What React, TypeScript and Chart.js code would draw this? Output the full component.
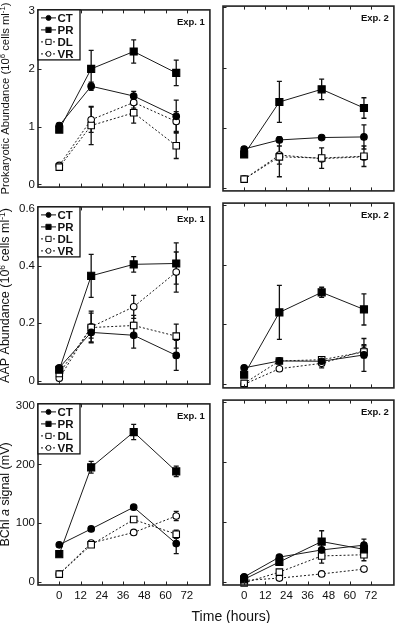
import React, { useEffect, useRef } from "react";
import { Chart, registerables } from "chart.js";

Chart.register(...registerables);

const FONT = "'Liberation Sans', Arial, Helvetica, sans-serif";

// ---------- categories / ticks ----------
const SERIES_NAMES = ["CT", "PR", "DL", "VR"];
const HOURS_EXP1 = [0, 18, 42, 66];
const HOURS_EXP2 = [0, 20, 44, 68];
const X_TICKS = [0, 12, 24, 36, 48, 60, 72];
const PROK_TICKS = [0, 1, 2, 3];
const AAP_TICKS = [0, 0.2, 0.4, 0.6];
const BCHL_TICKS = [0, 100, 200, 300];

// ---------- Prokaryotic abundance (10^6 cells ml-1) ----------
const PROK1_CT = [1.02, 1.7, 1.53, 1.18];
const PROK1_CT_ERR = [0.04, 0.07, 0.08, 0.28];
const PROK1_PR = [0.95, 2.0, 2.3, 1.93];
const PROK1_PR_ERR = [0.03, 0.32, 0.2, 0.22];
const PROK1_DL = [0.3, 1.02, 1.24, 0.67];
const PROK1_DL_ERR = [0.05, 0.33, 0.18, 0.22];
const PROK1_VR = [0.33, 1.12, 1.42, 1.09];
const PROK1_VR_ERR = [0.04, 0.22, 0.1, 0.17];

const PROK2_CT = [0.65, 0.8, 0.84, 0.85];
const PROK2_CT_ERR = [0.03, 0.04, 0.03, 0.2];
const PROK2_PR = [0.56, 1.43, 1.64, 1.33];
const PROK2_PR_ERR = [0.03, 0.34, 0.17, 0.17];
const PROK2_DL = [0.15, 0.52, 0.5, 0.53];
const PROK2_DL_ERR = [0.03, 0.33, 0.17, 0.17];
const PROK2_VR = [0.15, 0.55, 0.49, 0.52];
const PROK2_VR_ERR = [0.02, 0.15, 0.05, 0.05];

// ---------- AAP abundance (10^6 cells ml-1) ----------
const AAP1_CT = [0.045, 0.168, 0.158, 0.088];
const AAP1_CT_ERR = [0.005, 0.02, 0.045, 0.052];
const AAP1_PR = [0.038, 0.365, 0.405, 0.408];
const AAP1_PR_ERR = [0.005, 0.075, 0.027, 0.072];
const AAP1_DL = [0.025, 0.185, 0.192, 0.155];
const AAP1_DL_ERR = [0.005, 0.05, 0.035, 0.042];
const AAP1_VR = [0.008, 0.187, 0.257, 0.378];
const AAP1_VR_ERR = [0.003, 0.055, 0.04, 0.07];

const AAP2_CT = [0.055, 0.078, 0.077, 0.098];
const AAP2_CT_ERR = [0.004, 0.006, 0.006, 0.055];
const AAP2_PR = [0.032, 0.24, 0.307, 0.25];
const AAP2_PR_ERR = [0.004, 0.09, 0.017, 0.052];
const AAP2_DL = [0.003, 0.078, 0.082, 0.108];
const AAP2_DL_ERR = [0.002, 0.006, 0.01, 0.02];
const AAP2_VR = [0.0, 0.052, 0.07, 0.112];
const AAP2_VR_ERR = [0.002, 0.005, 0.015, 0.02];

// ---------- BChl a signal (mV) ----------
const BCHL1_CT = [63, 90, 127, 65];
const BCHL1_CT_ERR = [2, 3, 3, 17];
const BCHL1_PR = [47, 195, 255, 188];
const BCHL1_PR_ERR = [3, 10, 13, 9];
const BCHL1_DL = [13, 63, 106, 81];
const BCHL1_DL_ERR = [2, 3, 4, 7];
const BCHL1_VR = [13, 66, 84, 112];
const BCHL1_VR_ERR = [2, 3, 3, 8];

const BCHL2_CT = [8, 41, 53, 61];
const BCHL2_CT_ERR = [2, 3, 3, 10];
const BCHL2_PR = [4, 33, 67, 54];
const BCHL2_PR_ERR = [2, 3, 18, 8];
const BCHL2_DL = [-2, 16, 43, 45];
const BCHL2_DL_ERR = [1, 2, 12, 10];
const BCHL2_VR = [2, 6, 13, 21];
const BCHL2_VR_ERR = [1, 2, 2, 2];

type Seg = { t: string; sup?: boolean; it?: boolean };
const PROK_TITLE: Seg[] = [
  { t: "Prokaryotic Abundance (10" },
  { t: "6", sup: true },
  { t: " cells ml" },
  { t: "-1", sup: true },
  { t: ")" },
];
const AAP_TITLE: Seg[] = [
  { t: "AAP Abundance (10" },
  { t: "6", sup: true },
  { t: " cells ml" },
  { t: "-1", sup: true },
  { t: ")" },
];
const BCHL_TITLE: Seg[] = [{ t: "BChl " }, { t: "a", it: true }, { t: " signal (mV)" }];

type PanelSpec = {
  row: number;
  col: number;
  exp: string;
  hours: number[];
  values: number[][];
  errors: number[][];
  yTicks: number[];
  yMin: number;
  yMax: number;
  title: Seg[];
};

const PANELS: PanelSpec[] = [
  { row: 0, col: 0, exp: "Exp. 1", hours: HOURS_EXP1, values: [PROK1_CT, PROK1_PR, PROK1_DL, PROK1_VR], errors: [PROK1_CT_ERR, PROK1_PR_ERR, PROK1_DL_ERR, PROK1_VR_ERR], yTicks: PROK_TICKS, yMin: -0.045, yMax: 3.02, title: PROK_TITLE },
  { row: 0, col: 1, exp: "Exp. 2", hours: HOURS_EXP2, values: [PROK2_CT, PROK2_PR, PROK2_DL, PROK2_VR], errors: [PROK2_CT_ERR, PROK2_PR_ERR, PROK2_DL_ERR, PROK2_VR_ERR], yTicks: PROK_TICKS, yMin: -0.045, yMax: 3.02, title: PROK_TITLE },
  { row: 1, col: 0, exp: "Exp. 1", hours: HOURS_EXP1, values: [AAP1_CT, AAP1_PR, AAP1_DL, AAP1_VR], errors: [AAP1_CT_ERR, AAP1_PR_ERR, AAP1_DL_ERR, AAP1_VR_ERR], yTicks: AAP_TICKS, yMin: -0.012, yMax: 0.605, title: AAP_TITLE },
  { row: 1, col: 1, exp: "Exp. 2", hours: HOURS_EXP2, values: [AAP2_CT, AAP2_PR, AAP2_DL, AAP2_VR], errors: [AAP2_CT_ERR, AAP2_PR_ERR, AAP2_DL_ERR, AAP2_VR_ERR], yTicks: AAP_TICKS, yMin: -0.012, yMax: 0.605, title: AAP_TITLE },
  { row: 2, col: 0, exp: "Exp. 1", hours: HOURS_EXP1, values: [BCHL1_CT, BCHL1_PR, BCHL1_DL, BCHL1_VR], errors: [BCHL1_CT_ERR, BCHL1_PR_ERR, BCHL1_DL_ERR, BCHL1_VR_ERR], yTicks: BCHL_TICKS, yMin: -5.5, yMax: 303, title: BCHL_TITLE },
  { row: 2, col: 1, exp: "Exp. 2", hours: HOURS_EXP2, values: [BCHL2_CT, BCHL2_PR, BCHL2_DL, BCHL2_VR], errors: [BCHL2_CT_ERR, BCHL2_PR_ERR, BCHL2_DL_ERR, BCHL2_VR_ERR], yTicks: BCHL_TICKS, yMin: -5.5, yMax: 303, title: BCHL_TITLE },
];

const STYLES = [
  { shape: "circle", filled: true, dash: [] as number[], radius: 3.3 },
  { shape: "rect", filled: true, dash: [] as number[], radius: 5 },
  { shape: "rect", filled: false, dash: [2, 2], radius: 4.6 },
  { shape: "circle", filled: false, dash: [2, 2], radius: 3.3 },
];

function drawSegs(ctx: CanvasRenderingContext2D, segs: Seg[], baseSize: number, maxLen: number, cx: number, cy: number) {
  const measure = (size: number) => {
    const fontFor = (s: Seg) => `${s.it ? "italic " : ""}${s.sup ? (size * 0.68).toFixed(1) : size.toFixed(1)}px ${FONT}`;
    let total = 0;
    const widths = segs.map((s) => {
      ctx.font = fontFor(s);
      const w = ctx.measureText(s.t).width;
      total += w;
      return w;
    });
    return { fontFor, total, widths };
  };
  let size = baseSize;
  let m = measure(size);
  if (m.total > maxLen) {
    size = (baseSize * maxLen) / m.total;
    m = measure(size);
  }
  ctx.save();
  ctx.translate(cx, cy);
  ctx.rotate(-Math.PI / 2);
  ctx.fillStyle = "#111";
  ctx.textBaseline = "middle";
  ctx.textAlign = "left";
  let x = -m.total / 2;
  segs.forEach((s, i) => {
    ctx.font = m.fontFor(s);
    ctx.fillText(s.t, x, s.sup ? -size * 0.3 : 0);
    x += m.widths[i];
  });
  ctx.restore();
}

function Panel({ spec }: { spec: PanelSpec }) {
  const ref = useRef<HTMLCanvasElement>(null);
  const isLeft = spec.col === 0;
  const isBottom = spec.row === 2;
  const W = isLeft ? 216 : 184;
  const H = isBottom ? 229 : 197;
  const left = isLeft ? 0 : 216;
  const top = spec.row * 197;

  useEffect(() => {
    const canvas = ref.current!;
    const datasets = SERIES_NAMES.map((name, i) => {
      const st = STYLES[i];
      return {
        label: name,
        data: spec.hours.map((h, j) => ({ x: h, y: spec.values[i][j] })),
        borderColor: "#1a1a1a",
        borderWidth: 1,
        borderDash: st.dash,
        tension: 0,
        fill: false,
        pointStyle: st.shape,
        pointRadius: st.radius,
        pointBorderWidth: 1.1,
        pointBorderColor: "#000",
        pointBackgroundColor: st.filled ? "#000" : "#fff",
        clip: 6,
      };
    });

    const errorBars = {
      id: "errorBars",
      beforeDatasetsDraw(chart: any) {
        const { ctx } = chart;
        const xs = chart.scales.x;
        const ys = chart.scales.y;
        ctx.save();
        ctx.strokeStyle = "#111";
        ctx.lineWidth = 1.3;
        spec.values.forEach((vals, i) => {
          vals.forEach((v, j) => {
            const e = spec.errors[i][j];
            const x = xs.getPixelForValue(spec.hours[j]);
            const y1 = ys.getPixelForValue(v - e);
            const y2 = ys.getPixelForValue(v + e);
            ctx.beginPath();
            ctx.moveTo(x, y1);
            ctx.lineTo(x, y2);
            ctx.moveTo(x - 2.5, y1);
            ctx.lineTo(x + 2.5, y1);
            ctx.moveTo(x - 2.5, y2);
            ctx.lineTo(x + 2.5, y2);
            ctx.stroke();
          });
        });
        ctx.restore();
      },
    };

    const frame = {
      id: "frame",
      afterDraw(chart: any) {
        const { ctx, chartArea } = chart;
        const { left: l, top: t, right: r, bottom: b } = chartArea;
        const xs = chart.scales.x;
        const ys = chart.scales.y;
        ctx.save();
        ctx.strokeStyle = "#222";
        ctx.lineWidth = 1;
        ctx.beginPath();
        X_TICKS.forEach((v) => {
          const x = Math.round(xs.getPixelForValue(v)) + 0.5;
          ctx.moveTo(x, t);
          ctx.lineTo(x, t + 3.5);
          ctx.moveTo(x, b);
          ctx.lineTo(x, b - 3.5);
        });
        spec.yTicks.forEach((v) => {
          const y = Math.round(ys.getPixelForValue(v)) + 0.5;
          ctx.moveTo(l, y);
          ctx.lineTo(l + 3.5, y);
        });
        ctx.stroke();
        ctx.lineWidth = 1.6;
        ctx.strokeRect(l, t, r - l, b - t);

        // experiment label
        ctx.font = `bold 9.5px ${FONT}`;
        ctx.fillStyle = "#111";
        ctx.textAlign = "right";
        ctx.textBaseline = "middle";
        ctx.fillText(spec.exp, r - 5, t + 12);

        if (isLeft) {
          // legend
          const lw = 42;
          const lh = 50;
          ctx.fillStyle = "#fff";
          ctx.fillRect(l, t, lw, lh);
          ctx.lineWidth = 1.3;
          ctx.strokeStyle = "#111";
          ctx.strokeRect(l, t, lw, lh);
          SERIES_NAMES.forEach((name, i) => {
            const st = STYLES[i];
            const y = t + 8 + i * 12;
            ctx.lineWidth = 1;
            ctx.setLineDash(st.dash);
            ctx.beginPath();
            ctx.moveTo(l + 3, y);
            ctx.lineTo(l + 18, y);
            ctx.stroke();
            ctx.setLineDash([]);
            const mx = l + 10.5;
            ctx.fillStyle = st.filled ? "#000" : "#fff";
            ctx.beginPath();
            if (st.shape === "circle") {
              ctx.arc(mx, y, 2.5, 0, Math.PI * 2);
            } else {
              ctx.rect(mx - 2.6, y - 2.6, 5.2, 5.2);
            }
            ctx.fill();
            ctx.stroke();
            ctx.font = `bold 11.5px ${FONT}`;
            ctx.fillStyle = "#111";
            ctx.textAlign = "left";
            ctx.textBaseline = "middle";
            ctx.fillText(name, l + 19.5, y + 0.5);
          });
          // y-axis title
          drawSegs(ctx, spec.title, 12.5, 192, 6, (t + b) / 2);
        }
        ctx.restore();
      },
    };

    const chart = new Chart(canvas, {
      type: "line",
      data: { datasets: datasets as any },
      options: {
        animation: false,
        responsive: false,
        devicePixelRatio: 1,
        events: [],
        layout: { padding: { left: isLeft ? 0 : 7, right: 1, top: 3, bottom: isBottom ? 0 : 6 } },
        plugins: {
          legend: { display: false },
          tooltip: { enabled: false },
          title: { display: false },
        },
        scales: {
          x: {
            type: "linear",
            min: -12,
            max: 85,
            display: isBottom,
            grid: { display: false, drawTicks: false },
            border: { display: false },
            ticks: {
              font: { family: FONT, size: 11.5 },
              color: "#111",
              padding: 4,
              autoSkip: false,
              maxRotation: 0,
              callback: (v: any) => String(v),
            },
            afterBuildTicks: (s: any) => {
              s.ticks = X_TICKS.map((v) => ({ value: v }));
            },
            afterFit: (s: any) => {
              s.height = isBottom ? 38 : 0;
            },
          },
          y: {
            type: "linear",
            min: spec.yMin,
            max: spec.yMax,
            display: isLeft,
            grid: { display: false, drawTicks: false },
            border: { display: false },
            ticks: {
              font: { family: FONT, size: 11.5 },
              color: "#111",
              padding: 3,
              callback: (v: any) => String(v),
            },
            afterBuildTicks: (s: any) => {
              s.ticks = spec.yTicks.map((v) => ({ value: v }));
            },
            afterFit: (s: any) => {
              s.width = isLeft ? 38 : 0;
            },
          },
        },
      } as any,
      plugins: [errorBars, frame],
    });
    return () => chart.destroy();
  }, []);

  return (
    <canvas
      ref={ref}
      width={W}
      height={H}
      style={{ position: "absolute", left, top, width: W, height: H }}
    />
  );
}

export default function App() {
  return (
    <div
      style={{
        position: "absolute",
        left: 0,
        top: 0,
        width: 400,
        height: 623,
        background: "#fff",
        overflow: "hidden",
      }}
    >
      {PANELS.map((p, i) => (
        <Panel key={i} spec={p} />
      ))}
      <div
        style={{
          position: "absolute",
          left: 231,
          top: 607,
          transform: "translateX(-50%)",
          font: `14px ${FONT}`,
          color: "#111",
          whiteSpace: "nowrap",
          lineHeight: "18px",
        }}
      >
        Time (hours)
      </div>
    </div>
  );
}
